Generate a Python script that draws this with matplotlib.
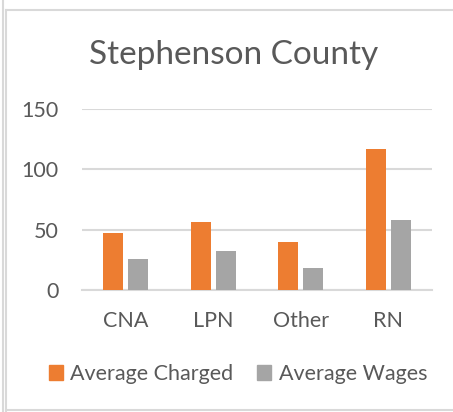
import matplotlib.pyplot as plt
import numpy as np
from matplotlib.patches import Patch
from matplotlib.lines import Line2D

categories = ["CNA", "LPN", "Other", "RN"]
avg_charged = [47, 56, 40, 117]
avg_wages = [26, 32, 18, 58]
y_ticks = [0, 50, 100, 150]

plt.rcParams["font.family"] = ["Lato", "DejaVu Sans"]
text_color = "#595959"
orange = "#ED7D31"
gray = "#A5A5A5"
grid_color = "#D9D9D9"

fig = plt.figure(figsize=(4.53, 4.12), dpi=100)
ax = fig.add_axes([82 / 453, 1 - 290 / 412, 350 / 453, 181 / 412])

x = np.arange(len(categories))
w = 0.229
gap = 0.057
ax.bar(x - (w + gap) / 2, avg_charged, w, color=orange, zorder=3)
ax.bar(x + (w + gap) / 2, avg_wages, w, color=gray, zorder=3)

ax.set_xlim(-0.5, len(categories) - 0.5)
ax.set_ylim(0, 150)
ax.set_yticks(y_ticks)
ax.set_xticks(x)
ax.set_xticklabels(categories)
ax.tick_params(axis="both", length=0, labelsize=15.5, labelcolor=text_color)
ax.tick_params(axis="y", pad=17)
ax.tick_params(axis="x", pad=15)
ax.grid(axis="y", color=grid_color, linewidth=1.5, zorder=0)
for s in ["top", "right", "left"]:
    ax.spines[s].set_visible(False)
ax.spines["bottom"].set_color(grid_color)
ax.spines["bottom"].set_linewidth(1.5)

fig.text(0.515, 1 - 55 / 412, "Stephenson County", ha="center", va="center",
         fontsize=24, color=text_color)

handles = [Patch(color=orange, label="Average Charged"),
           Patch(color=gray, label="Average Wages")]
fig.legend(handles=handles, loc="center", bbox_to_anchor=(0.525, 1 - 374 / 412),
           ncol=2, frameon=False, fontsize=15.5, labelcolor=text_color,
           handlelength=0.65, handleheight=0.65, handletextpad=0.35,
           columnspacing=1.1)

# chart border
fig.add_artist(Line2D([3 / 453, 3 / 453], [0, 1], color=grid_color, lw=1.5))
fig.add_artist(Line2D([6 / 453, 6 / 453], [0, 1 - 10 / 412], color=grid_color, lw=1.5))
fig.add_artist(Line2D([6 / 453, 1], [1 - 10 / 412, 1 - 10 / 412], color=grid_color, lw=1.5))
fig.add_artist(Line2D([6 / 453, 1], [1 - 410 / 412, 1 - 410 / 412], color=grid_color, lw=1.5))

fig.savefig("out.png", dpi=100)
